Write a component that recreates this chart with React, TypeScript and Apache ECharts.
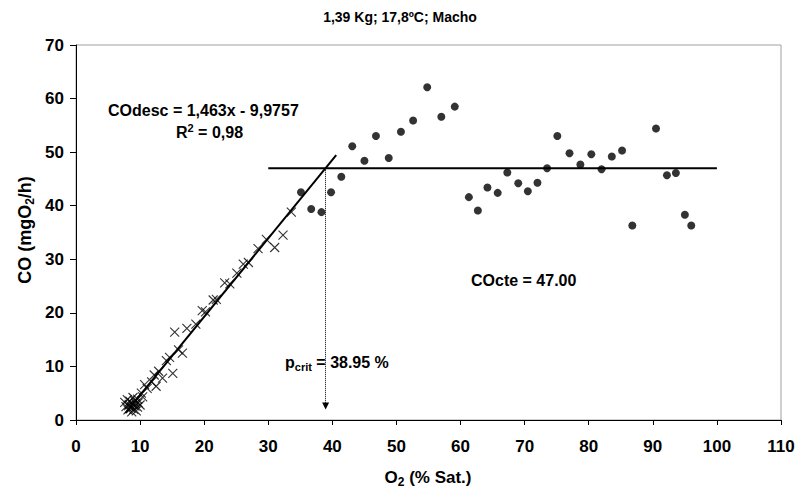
import React, { useEffect, useRef } from 'react';
import * as echarts from 'echarts';

const TITLE = '1,39 Kg; 17,8ºC; Macho';
const X_MIN = 0;
const X_MAX = 110;
const X_STEP = 10;
const Y_MIN = 0;
const Y_MAX = 70;
const Y_STEP = 10;

// Descending phase (crosses)
const descX = [7.6, 7.8, 8.0, 8.1, 8.3, 8.4, 8.6, 8.7, 8.8, 9.0, 9.1, 9.2, 9.4, 9.6, 9.7, 10.0, 9.6, 8.9, 8.2, 9.3, 10.4, 10.2, 11.1, 10.7, 11.8, 12.5, 12.2, 13.5, 12.9, 15.1, 14.1, 14.6, 16.0, 16.6, 15.4, 17.3, 18.7, 19.7, 20.2, 21.4, 21.9, 23.2, 24.0, 25.1, 26.1, 26.9, 28.4, 29.7, 31.0, 32.3, 33.6];
const descY = [3.3, 2.5, 3.8, 1.9, 2.9, 3.5, 2.2, 1.5, 3.0, 2.0, 3.6, 2.6, 1.7, 2.4, 3.2, 2.8, 3.9, 4.2, 2.7, 3.1, 4.3, 5.0, 5.9, 6.6, 7.1, 6.3, 8.4, 7.8, 9.1, 8.7, 11.1, 11.7, 13.1, 12.5, 16.4, 17.1, 17.9, 20.4, 20.2, 22.4, 22.5, 25.6, 25.4, 27.4, 29.1, 29.4, 32.0, 33.7, 32.2, 34.5, 38.8];

// Constant phase (dots)
const cteX = [35.1, 36.7, 38.3, 39.8, 41.4, 43.1, 45.0, 46.8, 48.8, 50.7, 52.6, 54.8, 57.0, 59.1, 61.3, 62.7, 64.2, 65.8, 67.3, 69.0, 70.5, 72.0, 73.5, 75.1, 77.0, 78.7, 80.4, 82.0, 83.6, 85.2, 86.8, 90.5, 92.2, 93.6, 95.0, 96.0];
const cteY = [42.5, 39.4, 38.8, 42.5, 45.4, 51.1, 48.4, 53.0, 48.9, 53.8, 55.9, 62.1, 56.6, 58.5, 41.6, 39.1, 43.4, 42.4, 46.2, 44.2, 42.7, 44.3, 47.0, 53.0, 49.8, 47.7, 49.6, 46.8, 49.2, 50.3, 36.3, 54.4, 45.7, 46.1, 38.3, 36.3];

const FIT_SLOPE = 1.463;
const FIT_INTERCEPT = -9.9757;
const FIT_RANGE = [7.7, 40.6];
const CO_CTE = 47.0;
const CTE_RANGE = [30, 100];
const P_CRIT = 38.95;
const ARROW_END_Y = 2.6;

const FONT = "'Liberation Sans', Arial, Helvetica, sans-serif";

export default function App() {
  const ref = useRef<HTMLDivElement>(null);

  useEffect(() => {
    if (!ref.current) return;
    const chart = echarts.init(ref.current, undefined, { renderer: 'svg' });

    const descData = descX.map((x, i) => [x, descY[i]]);
    const cteData = cteX.map((x, i) => [x, cteY[i]]);
    const fitData = FIT_RANGE.map((x) => [x, FIT_SLOPE * x + FIT_INTERCEPT]);
    const cteLine = CTE_RANGE.map((x) => [x, CO_CTE]);

    const mk = (size: number) => ({
      a: { fontSize: size, fontWeight: 'bold', fontFamily: FONT, lineHeight: size + 4, color: '#000' },
      sub: { fontSize: Math.round(size * 0.68), fontWeight: 'bold', fontFamily: FONT, lineHeight: Math.round(size * 0.68), verticalAlign: 'bottom', color: '#000' },
      sup: { fontSize: Math.round(size * 0.68), fontWeight: 'bold', fontFamily: FONT, lineHeight: Math.round(size * 0.68), verticalAlign: 'top', color: '#000' },
    });

    const axisLabelStyle = { color: '#000', fontSize: 17, fontWeight: 'bold', fontFamily: FONT };

    const option: any = {
      animation: false,
      backgroundColor: '#fff',
      textStyle: { fontFamily: FONT },
      grid: {
        left: 76,
        top: 45,
        right: 19,
        bottom: 70,
        show: true,
        borderColor: '#a0a0a0',
        borderWidth: 1,
        backgroundColor: '#fff',
      },
      xAxis: {
        type: 'value',
        min: X_MIN,
        max: X_MAX,
        interval: X_STEP,
        axisLine: { show: true, onZero: false, lineStyle: { color: '#000', width: 1 } },
        axisTick: { show: true, inside: false, length: 5, lineStyle: { color: '#000' } },
        axisLabel: { ...axisLabelStyle, margin: 18 },
        splitLine: { show: false },
      },
      yAxis: {
        type: 'value',
        min: Y_MIN,
        max: Y_MAX,
        interval: Y_STEP,
        axisLine: { show: true, onZero: false, lineStyle: { color: '#000', width: 1 } },
        axisTick: { show: true, inside: false, length: 6, lineStyle: { color: '#000' } },
        axisLabel: { ...axisLabelStyle, margin: 12 },
        splitLine: { show: false },
      },
      series: [
        {
          name: 'desc',
          type: 'scatter',
          data: descData,
          symbol: 'path://M0,0L10,10M10,0L0,10',
          symbolSize: 9,
          itemStyle: { color: 'rgba(0,0,0,0)', borderColor: '#000', borderWidth: 1.1 },
          z: 3,
        },
        {
          name: 'cte',
          type: 'scatter',
          data: cteData,
          symbol: 'circle',
          symbolSize: 8,
          itemStyle: { color: '#000' },
          z: 3,
        },
        {
          name: 'fit',
          type: 'line',
          data: fitData,
          showSymbol: false,
          symbol: 'none',
          lineStyle: { color: '#000', width: 2 },
          z: 4,
        },
        {
          name: 'cteLine',
          type: 'line',
          data: cteLine,
          showSymbol: false,
          symbol: 'none',
          lineStyle: { color: '#000', width: 2 },
          z: 4,
          markLine: {
            silent: true,
            symbol: ['none', 'triangle'],
            symbolSize: [7, 7],
            label: { show: false },
            lineStyle: { type: 'dotted', color: '#000', width: 1 },
            data: [[{ coord: [P_CRIT, CO_CTE] }, { coord: [P_CRIT, ARROW_END_Y] }]],
          },
        },
      ],
      graphic: [
        {
          type: 'text',
          x: 400,
          y: 17,
          style: {
            text: TITLE,
            fontSize: 14,
            fontWeight: 'bold',
            fontFamily: FONT,
            fill: '#000',
            align: 'center',
            verticalAlign: 'middle',
          },
        },
        {
          type: 'text',
          x: 108,
          y: 110,
          style: {
            text: 'COdesc = 1,463x - 9,9757',
            fontSize: 16,
            fontWeight: 'bold',
            fontFamily: FONT,
            fill: '#000',
            align: 'left',
            verticalAlign: 'middle',
          },
        },
        {
          type: 'text',
          x: 176,
          y: 132,
          style: {
            text: '{a|R}{sup|2}{a| = 0,98}',
            rich: mk(16),
            fill: '#000',
            align: 'left',
            verticalAlign: 'middle',
          },
        },
        {
          type: 'text',
          x: 471,
          y: 280,
          style: {
            text: 'COcte = 47.00',
            fontSize: 16,
            fontWeight: 'bold',
            fontFamily: FONT,
            fill: '#000',
            align: 'left',
            verticalAlign: 'middle',
          },
        },
        {
          type: 'text',
          x: 285,
          y: 362,
          style: {
            text: '{a|p}{sub|crit}{a| = 38.95 %}',
            rich: mk(16),
            fill: '#000',
            align: 'left',
            verticalAlign: 'middle',
          },
        },
        {
          type: 'text',
          x: 428,
          y: 477,
          style: {
            text: '{a|O}{sub|2}{a| (% Sat.)}',
            rich: mk(17),
            fill: '#000',
            align: 'center',
            verticalAlign: 'middle',
          },
        },
        {
          type: 'text',
          x: 25,
          y: 230,
          rotation: Math.PI / 2,
          style: {
            text: '{a|CO (mgO}{sub|2}{a|/h)}',
            rich: mk(18),
            fill: '#000',
            align: 'center',
            verticalAlign: 'middle',
          },
        },
      ],
    };

    chart.setOption(option);
    return () => chart.dispose();
  }, []);

  return (
    <div
      ref={ref}
      style={{ position: 'fixed', left: 0, top: 0, width: 800, height: 490, background: '#fff' }}
    />
  );
}
